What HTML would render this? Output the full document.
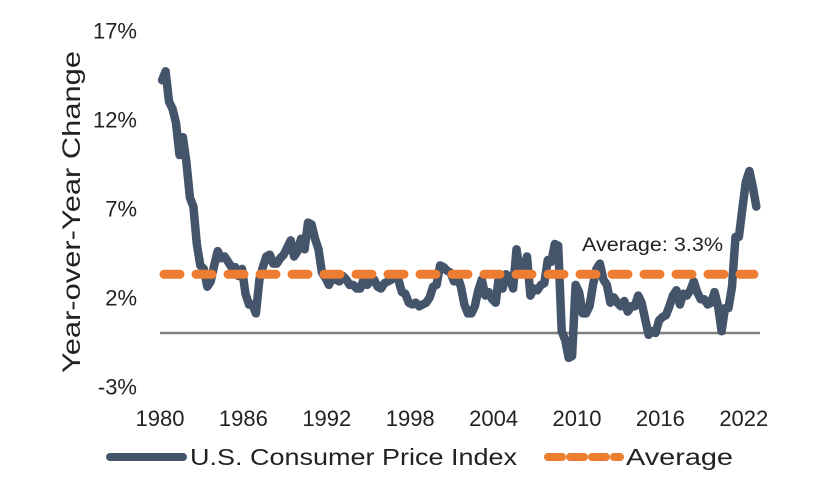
<!DOCTYPE html>
<html><head><meta charset="utf-8"><style>
body{margin:0;background:#fff;width:816px;height:496px;overflow:hidden;font-family:"Liberation Sans",sans-serif}
</style></head><body>
<svg width="816" height="496" xmlns="http://www.w3.org/2000/svg">
<g id="yticks"></g><g id="xticks"></g>
<text x="80" y="212" transform="rotate(-90 80 212)" text-anchor="middle" font-size="25" textLength="322" lengthAdjust="spacingAndGlyphs" fill="#222">Year-over-Year Change</text>
<line x1="160" y1="333" x2="760" y2="333" stroke="#808080" stroke-width="2.5"/>
<path id="cpi" fill="none" stroke="#44546a" stroke-width="8.5" stroke-linejoin="round" stroke-linecap="round"/>
<line id="avg" x1="164" x2="754" stroke="#ed7d31" stroke-width="9" stroke-dasharray="16 16" stroke-linecap="round"/>
<text id="avglbl" x="582" y="251" font-size="19" textLength="141" lengthAdjust="spacingAndGlyphs" fill="#222">Average: 3.3%</text>
<line x1="110" y1="457" x2="183" y2="457" stroke="#44546a" stroke-width="8" stroke-linecap="round"/>
<text x="190" y="465" font-size="23" textLength="327" lengthAdjust="spacingAndGlyphs" fill="#222">U.S. Consumer Price Index</text>
<line x1="548" y1="457" x2="620" y2="457" stroke="#ed7d31" stroke-width="8" stroke-dasharray="14 8" stroke-linecap="round"/>
<text x="626" y="465" font-size="23" textLength="107" lengthAdjust="spacingAndGlyphs" fill="#222">Average</text>
</svg>
<script>
const yTicks=[17,12,7,2,-3];
const xTicks=[1980,1986,1992,1998,2004,2010,2016,2022];
const average=3.3;
const startYear=1980;
const cpiValues=[14.2,14.7,13.0,12.6,11.8,10.0,11.0,9.6,7.6,7.1,5.0,3.8,3.6,2.6,2.9,3.8,4.6,4.2,4.3,4.0,3.7,3.7,3.2,3.6,2.2,1.6,1.6,1.1,3.0,3.7,4.3,4.4,3.9,3.9,4.2,4.4,4.8,5.2,4.3,4.6,5.3,4.7,6.2,6.1,5.3,4.7,3.4,3.1,2.7,3.1,3.0,2.9,3.2,3.0,2.7,2.7,2.5,2.5,3.0,2.7,2.9,3.0,2.6,2.5,2.8,2.9,3.0,3.3,3.0,2.3,2.2,1.7,1.6,1.7,1.5,1.6,1.7,2.0,2.6,2.7,3.8,3.7,3.5,3.4,2.9,3.2,2.6,1.6,1.1,1.1,1.5,2.4,3.0,2.1,2.3,1.9,1.7,3.3,2.5,3.3,3.1,2.5,4.7,3.4,3.4,4.3,2.1,2.5,2.4,2.7,2.8,4.1,4.0,5.0,4.9,0.1,-0.4,-1.4,-1.3,2.7,2.3,1.1,1.1,1.5,2.7,3.6,3.9,3.0,2.7,1.7,2.0,1.7,1.5,1.8,1.2,1.5,1.5,2.1,1.7,0.8,-0.1,0.1,0.0,0.7,0.9,1.0,1.5,2.1,2.4,1.6,2.2,2.1,2.4,2.9,2.3,1.9,1.9,1.6,1.7,2.3,1.5,0.1,1.4,1.4,2.6,5.4,5.4,7.0,8.5,9.1,8.2,7.1];
const sx=y=>160+(y-1980)*13.9;
const sy=v=>333-v*17.8;
const NS="http://www.w3.org/2000/svg";
const yg=document.getElementById('yticks');
yTicks.forEach(t=>{const e=document.createElementNS(NS,'text');
e.setAttribute('x',137);e.setAttribute('y',sy(t)+8);e.setAttribute('text-anchor','end');e.setAttribute('font-size','22');e.setAttribute('fill','#222');


e.textContent=t+'%';yg.appendChild(e);});
const xg=document.getElementById('xticks');
xTicks.forEach(t=>{const e=document.createElementNS(NS,'text');
e.setAttribute('x',sx(t));e.setAttribute('y',426);e.setAttribute('text-anchor','middle');e.setAttribute('font-size','22');e.setAttribute('fill','#222');


e.textContent=t;xg.appendChild(e);});
let d='';cpiValues.forEach((v,i)=>{const yr=startYear+0.15+i*0.25;d+=(i?'L':'M')+sx(yr).toFixed(1)+','+sy(v).toFixed(1);});
document.getElementById('cpi').setAttribute('d',d);
const a=document.getElementById('avg');a.setAttribute('y1',sy(average));a.setAttribute('y2',sy(average));
document.getElementById('avglbl').textContent='Average: '+average+'%';
</script>
</body></html>
